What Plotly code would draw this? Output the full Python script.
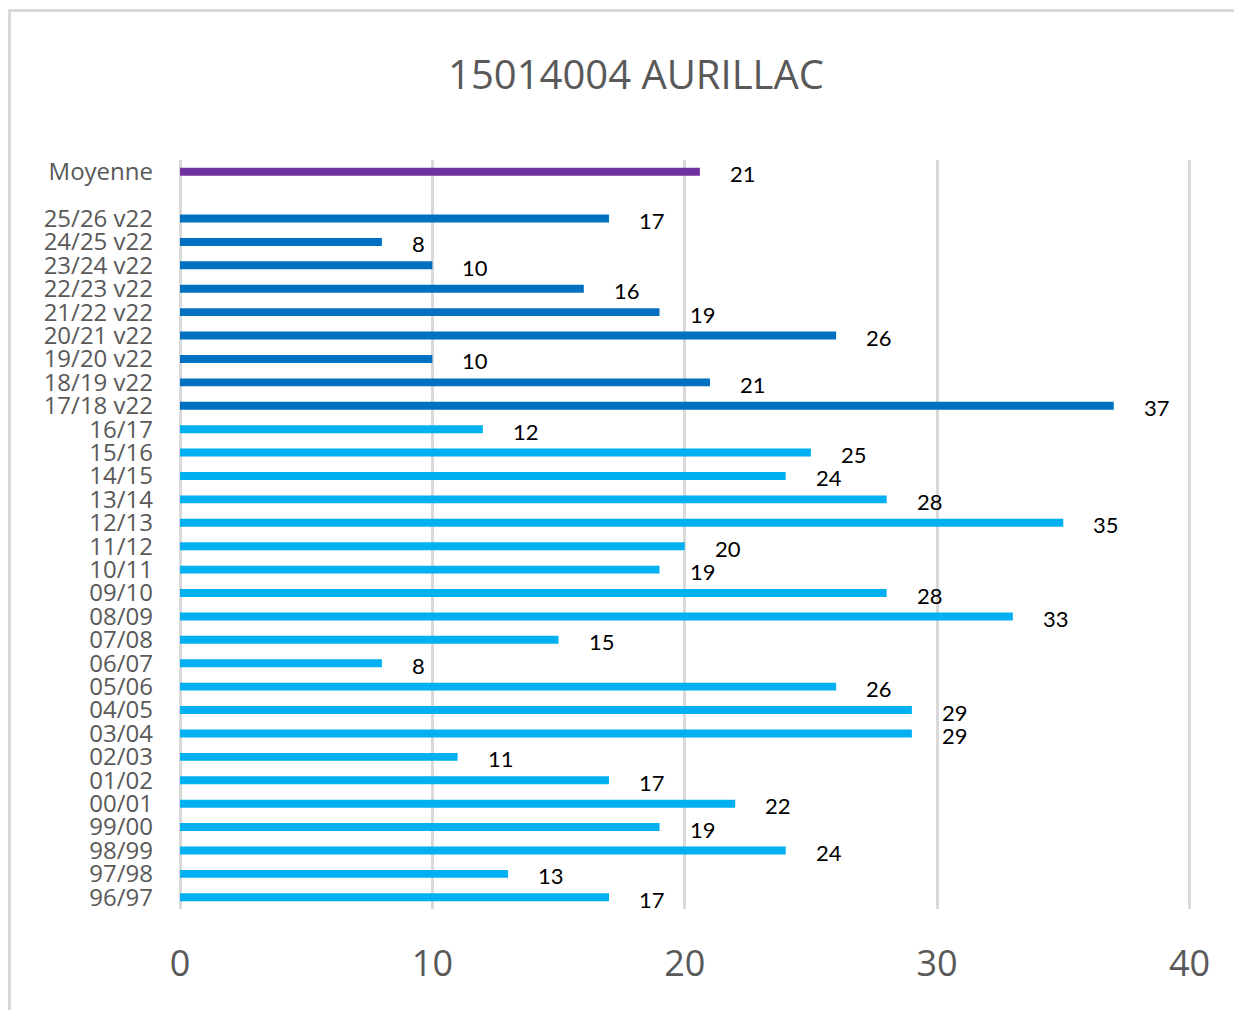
import plotly.graph_objects as go

# Data
hist_cats = ["96/97", "97/98", "98/99", "99/00", "00/01", "01/02", "02/03", "03/04", "04/05",
             "05/06", "06/07", "07/08", "08/09", "09/10", "10/11", "11/12", "12/13", "13/14",
             "14/15", "15/16", "16/17"]
hist_vals = [17, 13, 24, 19, 22, 17, 11, 29, 29, 26, 8, 15, 33, 28, 19, 20, 35, 28, 24, 25, 12]

v22_cats = ["17/18 v22", "18/19 v22", "19/20 v22", "20/21 v22", "21/22 v22", "22/23 v22",
            "23/24 v22", "24/25 v22", "25/26 v22"]
v22_vals = [37, 21, 10, 26, 19, 16, 10, 8, 17]

avg_cats = ["Moyenne"]
avg_vals = [20.6]

gap_cat = " "
all_cats = hist_cats + v22_cats + [gap_cat] + avg_cats

title_text = "15014004 AURILLAC"

C_HIST = "#00B0F0"
C_V22 = "#0070C0"
C_AVG = "#7030A0"
GRID = "#D9D9D9"
TXT = "#595959"
FONT_LBL = "Lato, Carlito, sans-serif"
FONT_AX = "Open Sans, Noto Sans, sans-serif"

W, H = 1234, 1002  # page body has an 8px margin

fig = go.Figure()
for cats, vals, col in [(hist_cats, hist_vals, C_HIST), (v22_cats, v22_vals, C_V22),
                        (avg_cats, avg_vals, C_AVG)]:
    fig.add_trace(go.Bar(
        y=cats, x=vals, orientation="h", marker=dict(color=col, line=dict(width=0)),
        width=0.34, showlegend=False, hoverinfo="x+y",
    ))
    for c, v in zip(cats, vals):
        fig.add_annotation(
            x=v, y=c, xref="x", yref="y", text=str(int(round(v))),
            showarrow=False, xanchor="left", yanchor="middle", xshift=28, yshift=-2,
            font=dict(family=FONT_LBL, size=22, color="#000000"),
        )

fig.update_layout(
    width=W, height=H,
    margin=dict(l=172, r=50, t=152, b=101),
    paper_bgcolor="white", plot_bgcolor="white",
    barmode="overlay",
    title=dict(text=title_text, x=(636 - 8) / W, xref="container", xanchor="center",
               y=1 - (75 - 8) / H, yref="container", yanchor="middle",
               font=dict(family=FONT_AX, size=40, color=TXT)),
    xaxis=dict(range=[0, 40.1], tickmode="array", tickvals=[0, 10, 20, 30, 40],
               showgrid=True, gridcolor=GRID, gridwidth=3,
               zeroline=True, zerolinecolor=GRID, zerolinewidth=3, showline=False,
               ticks="", ticklabelstandoff=30,
               tickfont=dict(family=FONT_AX, size=36, color=TXT), fixedrange=True),
    yaxis=dict(type="category", categoryorder="array", categoryarray=all_cats,
               tickmode="array", tickvals=all_cats, ticktext=all_cats,
               range=[-0.5, len(all_cats) - 0.5], showgrid=False, zeroline=False,
               showline=False, ticks="", ticklabelstandoff=26,
               tickfont=dict(family=FONT_AX, size=24, color=TXT), fixedrange=True),
    shapes=[dict(type="rect", xref="paper", yref="paper",
                 x0=(9.5 - 180) / 1012, x1=1.3, y0=-0.3, y1=(909 - 10.5) / 749,
                 line=dict(color=GRID, width=3), fillcolor="rgba(0,0,0,0)", layer="below")],
)

fig.write_html("out.html")
